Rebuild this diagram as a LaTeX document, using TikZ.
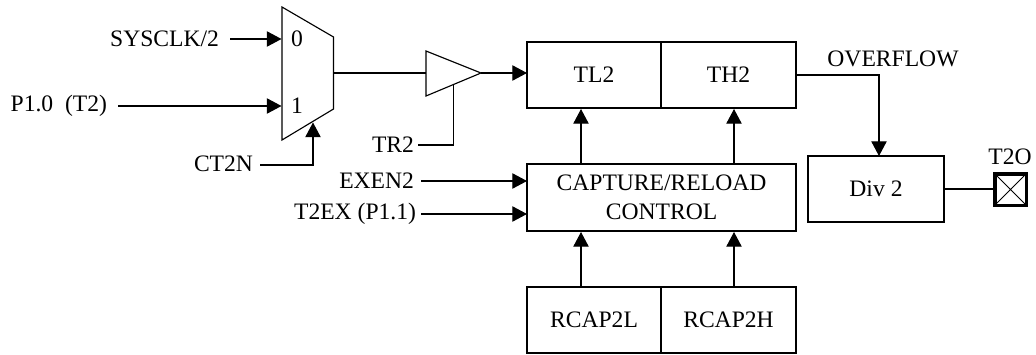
\documentclass[tikz,border=0pt]{standalone}
\usepackage{fontspec}
\setmainfont{Liberation Serif}
\usetikzlibrary{arrows.meta}
\tikzset{
  wire/.style={line width=0.85pt},
  arrowwire/.style={wire,-{Triangle[length=11pt,width=11.5pt]}},
  blockbox/.style={draw,line width=0.9pt,inner sep=0pt,outer sep=0pt,align=center,font=\fontsize{17.7pt}{21.4pt}\selectfont},
  lab/.style={inner sep=0pt,outer sep=0pt,font=\fontsize{17.7pt}{21pt}\selectfont},
  lableft/.style={lab,anchor=east},
  padbox/.style={draw,line width=2.6pt,inner sep=0pt,outer sep=0pt,minimum width=23.6pt,minimum height=23.6pt}
}
\begin{document}
\begin{tikzpicture}[x=0.75pt,y=-0.75pt]
\useasboundingbox (0,0) rectangle (1036,354);
% multiplexer
\coordinate (mtl) at (282,7);
\coordinate (mtr) at (333.5,37);
\coordinate (mbr) at (333.5,109);
\coordinate (mbl) at (282,140);
\draw[wire,line join=miter] (mtl)--(mtr)--(mbr)--(mbl)--cycle;
\coordinate (min0) at (281.5,39);
\coordinate (min1) at (281.5,106);
\coordinate (mout) at (333.5,73);
\coordinate (msel) at (313,122.5);
\node[lab] (n0) at (297,39) {0};
\node[lab] (n1) at (297,106) {1};
% gate triangle
\coordinate (ta) at (426,51);
\coordinate (tb) at (481,73);
\coordinate (tc) at (426,96);
\draw[wire] (ta)--(tb)--(tc)--cycle;
\coordinate (tin) at (426,73);
\coordinate (ten) at (453.5,85);
% blocks
\node[blockbox,minimum width=100.5pt,minimum height=49.5pt] (tl2) at (594,75) {TL2};
\node[blockbox,minimum width=101.25pt,minimum height=49.5pt] (th2) at (728.5,75) {TH2};
\node[blockbox,minimum width=201.75pt,minimum height=50.25pt] (cap) at (661.5,197.5) {CAPTURE/RELOAD\\CONTROL};
\node[blockbox,minimum width=100.5pt,minimum height=49.5pt] (rl) at (594,320) {RCAP2L};
\node[blockbox,minimum width=101.25pt,minimum height=49.5pt] (rh) at (728.5,320) {RCAP2H};
\node[blockbox,minimum width=102pt,minimum height=49.5pt] (div) at (876,189) {Div 2};
\node[padbox] (pad) at (1010.5,189.5) {};
\draw[line width=0.7pt] (pad.north west)--(pad.south east) (pad.north east)--(pad.south west);
% labels
\node[lableft] (sys) at (219,39) {SYSCLK/2};
\node[lableft] (p10) at (107,106) {P1.0\ \ (T2)};
\node[lableft] (ct) at (253,164) {CT2N};
\node[lableft] (tr) at (414,145) {TR2};
\node[lableft] (ex) at (414,181) {EXEN2};
\node[lableft] (t2ex) at (416,214) {T2EX (P1.1)};
\node[lab] (ovf) at (893,59) {OVERFLOW};
\node[lab] (t2o) at (1010,157) {T2O};
% connectors
\coordinate (sysend) at (230,39);
\coordinate (p10end) at (118,106);
\coordinate (ctend) at (260,165);
\coordinate (trend) at (418,145);
\coordinate (exend) at (421,181);
\coordinate (t2exend) at (421,214);
\draw[arrowwire] (sysend) -- (min0);
\draw[arrowwire] (p10end) -- (min1);
\draw[arrowwire] (ctend) -| (msel);
\draw[wire] (mout) -- (tin);
\draw[arrowwire] (tb) -- (tl2.west |- tb);
\draw[wire] (trend) -| (ten);
\draw[arrowwire] (exend) -- (cap.west |- exend);
\draw[arrowwire] (t2exend) -- (cap.west |- t2exend);
\draw[arrowwire] (581,164) -- (581,109);
\draw[arrowwire] (734,164) -- (734,109);
\draw[arrowwire] (581,287) -- (581,232);
\draw[arrowwire] (734,287) -- (734,232);
\draw[arrowwire] (th2.east) -| (div.north -| 879,155);
\draw[wire] (div.east) -- (div.east -| pad.west);
\end{tikzpicture}
\end{document}
